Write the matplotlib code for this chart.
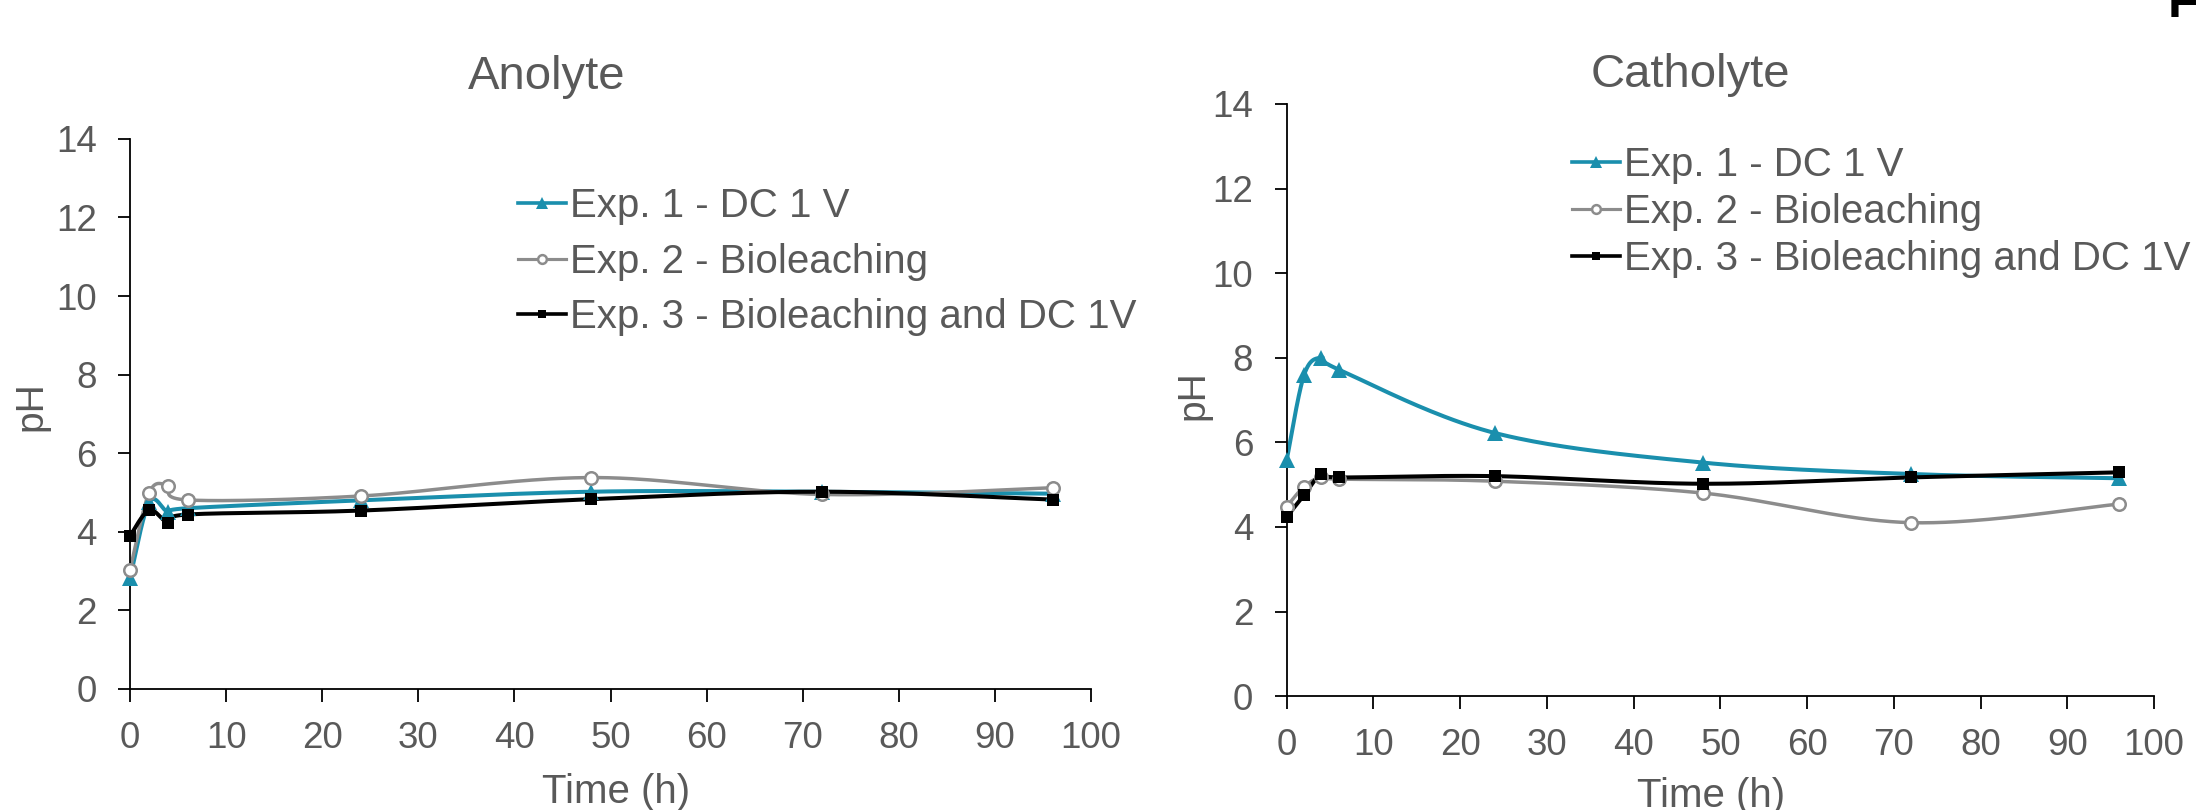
import numpy as np
import matplotlib
matplotlib.use("Agg")
import matplotlib.pyplot as plt
from matplotlib.lines import Line2D

plt.rcParams['font.family'] = ['Liberation Sans', 'DejaVu Sans']

# ---------------- data ----------------
time_h = [0, 2, 4, 6, 24, 48, 72, 96]

series_labels = ["Exp. 1 - DC 1 V", "Exp. 2 - Bioleaching", "Exp. 3 - Bioleaching and DC 1V"]

anolyte_exp1 = [2.82, 4.75, 4.50, 4.60, 4.80, 5.02, 5.02, 4.97]
anolyte_exp2 = [3.03, 5.00, 5.17, 4.81, 4.91, 5.38, 4.95, 5.12]
anolyte_exp3 = [3.89, 4.55, 4.23, 4.44, 4.54, 4.83, 5.02, 4.82]

catholyte_exp1 = [5.58, 7.59, 8.00, 7.72, 6.22, 5.52, 5.25, 5.15]
catholyte_exp2 = [4.48, 4.95, 5.18, 5.13, 5.08, 4.80, 4.10, 4.54]
catholyte_exp3 = [4.24, 4.75, 5.25, 5.17, 5.20, 5.02, 5.17, 5.29]

x_ticks = list(range(0, 101, 10))
y_ticks = list(range(0, 15, 2))

# ---------------- style ----------------
BLUE = '#1A8FAD'
GREY = '#8C8C8C'
BLACK = '#000000'
TXT = '#595959'

W, H = 2196, 810
fig = plt.figure(figsize=(W / 100, H / 100), dpi=100)


def smooth(x, y, sx, sy, n=40):
    """Excel-like smoothed line (cubic Bezier / Catmull-Rom through the points)."""
    P = np.column_stack([np.asarray(x, float) * sx, np.asarray(y, float) * sy])
    pts = np.vstack([P[0], P, P[-1]])
    out = []
    m = len(pts)
    for i in range(1, m - 2):
        p0, p1, p2, p3 = pts[i - 1], pts[i], pts[i + 1], pts[i + 2]
        t = np.linspace(0, 1, n, endpoint=(i == m - 3))[:, None]
        c1 = p1 + (p2 - p0) / 6.0
        c2 = p2 - (p3 - p1) / 6.0
        B = (1 - t) ** 3 * p1 + 3 * (1 - t) ** 2 * t * c1 + 3 * (1 - t) * t ** 2 * c2 + t ** 3 * p2
        out.append(B)
    B = np.vstack(out)
    return B[:, 0] / sx, B[:, 1] / sy


def make_axes(px_left, px_x100, px_y0, px_y14):
    left = px_left / W
    width = (px_x100 - px_left) / W
    bottom = 1 - px_y0 / H
    height = (px_y0 - px_y14) / H
    ax = fig.add_axes([left, bottom, width, height])
    return ax


styles = [
    dict(color=BLUE, lw=2.9, marker='^', ms=12, mfc=BLUE, mec=BLUE, mew=0),
    dict(color=GREY, lw=2.5, marker='o', ms=9, mfc='white', mec=GREY, mew=1.8),
    dict(color=BLACK, lw=2.9, marker='s', ms=8.5, mfc=BLACK, mec=BLACK, mew=0),
]


def draw_panel(ax, datasets, sx, sy, title, title_xy, ylab_xy, xlab_xy):
    for data, st in zip(datasets, styles):
        xs, ys = smooth(time_h, data, sx, sy)
        ax.plot(xs, ys, color=st['color'], lw=st['lw'], solid_capstyle='round', zorder=2)
        ax.plot(time_h, data, ls='none', marker=st['marker'], ms=st['ms'],
                mfc=st['mfc'], mec=st['mec'], mew=st['mew'], zorder=3, clip_on=False)
    ax.set_xlim(0, 100)
    ax.set_ylim(0, 14)
    ax.set_xticks(x_ticks)
    ax.set_yticks(y_ticks)
    for s in ['top', 'right']:
        ax.spines[s].set_visible(False)
    for s in ['left', 'bottom']:
        ax.spines[s].set_color('#000000')
        ax.spines[s].set_linewidth(1.3)
    ax.tick_params(axis='both', direction='out', length=9, width=1.3, color='#000000',
                   labelcolor=TXT, labelsize=26.5)
    ax.tick_params(axis='y', pad=15)
    ax.tick_params(axis='x', pad=14)
    ax.set_title(title, fontsize=34, color=TXT, x=title_xy[0], y=title_xy[1], va='center', pad=0)
    ax.set_ylabel('pH', fontsize=28, color=TXT, va='center', ha='center')
    ax.yaxis.set_label_coords(*ylab_xy)
    ax.set_xlabel('Time (h)', fontsize=29, color=TXT, va='center', ha='center')
    ax.xaxis.set_label_coords(*xlab_xy)


# Left panel: Anolyte
axL = make_axes(130, 1091, 689, 138.8)
draw_panel(axL, [anolyte_exp1, anolyte_exp2, anolyte_exp3], 9.61, 39.3, 'Anolyte',
           ((547 - 130) / 961, (689 - 77) / 550.2),
           ((31 - 130) / 961, (689 - 406) / 550.2),
           ((616 - 130) / 961, -(792 - 689) / 550.2))

# Right panel: Catholyte
axR = make_axes(1286.7, 2154, 696.1, 103.9)
draw_panel(axR, [catholyte_exp1, catholyte_exp2, catholyte_exp3], 8.67, 42.3, 'Catholyte',
           ((1690 - 1286.7) / 867.3, (696.1 - 75) / 592.2),
           ((1193 - 1286.7) / 867.3, (696.1 - 395) / 592.2),
           ((1711 - 1286.7) / 867.3, -(796 - 696.1) / 592.2))


def legend_handles():
    hs = []
    for st in styles:
        hs.append(Line2D([0], [0], color=st['color'], lw=st['lw'] * 0.9, marker=st['marker'],
                         ms=st['ms'] * 0.7, mfc=st['mfc'], mec=st['mec'], mew=st['mew']))
    return hs


legL = axL.legend(legend_handles(), series_labels, loc='upper left',
                  bbox_to_anchor=(518 / W, 1 - 187 / H), bbox_transform=fig.transFigure,
                  frameon=False, fontsize=29, labelcolor=TXT, borderpad=0, borderaxespad=0,
                  handlelength=1.2, handletextpad=0.1, labelspacing=0.44, markerscale=1)
legR = axR.legend(legend_handles(), series_labels, loc='upper left',
                  bbox_to_anchor=(1572 / W, 1 - 146 / H), bbox_transform=fig.transFigure,
                  frameon=False, fontsize=29, labelcolor=TXT, borderpad=0, borderaxespad=0,
                  handlelength=1.2, handletextpad=0.1, labelspacing=0.22, markerscale=1)

# partial panel letter cropped at top-right corner
fig.text(2168 / W, 1 - 17 / H, 'F', fontsize=36, fontweight='bold', color='black',
         ha='left', va='baseline')

fig.savefig('out.png', dpi=100)
